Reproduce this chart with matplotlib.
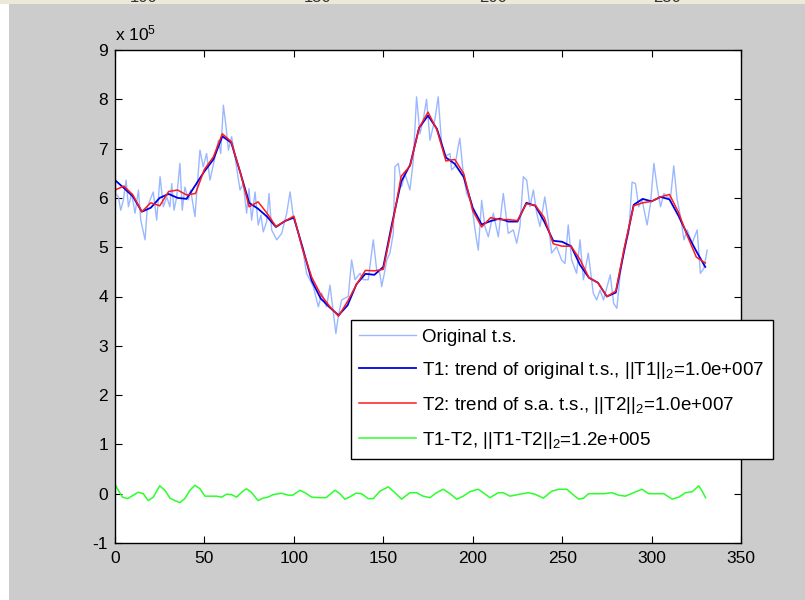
import matplotlib
matplotlib.use("Agg")
import matplotlib.pyplot as plt
from matplotlib.patches import Rectangle
from matplotlib.lines import Line2D

plt.rcParams['font.family'] = ['Liberation Sans', 'DejaVu Sans']
plt.rcParams['mathtext.fontset'] = 'custom'
plt.rcParams['mathtext.rm'] = 'Liberation Sans'
plt.rcParams['mathtext.it'] = 'Liberation Sans'

# ---------------- data (values in units of 1e5) ----------------
orig_x = [0.0, 0.4, 1.9, 3.2, 4.7, 6.2, 7.5, 9.3, 11.2, 13.1, 14.4, 16.8, 18.1, 19.6, 21.4,
          23.3, 25.2, 27.0, 28.9, 30.7, 31.7, 33.0, 34.5, 36.3, 37.6, 39.1, 41.0, 42.3, 44.7,
          47.5, 49.3, 51.2, 53.1, 55.9, 57.8, 59.1, 60.6, 62.1, 63.4, 65.2, 67.1, 69.9, 71.7,
          73.6, 74.9, 76.4, 78.3, 80.1, 81.6, 82.9, 84.8, 86.1, 87.6, 90.4, 93.2, 96.0, 97.9,
          99.7, 102.6, 105.3, 107.1, 110.9, 113.7, 115.6, 118.3, 120.2, 122.1, 123.5, 124.8,
          126.7, 130.4, 132.3, 134.2, 137.0, 138.8, 141.6, 144.4, 146.3, 148.1, 149.1, 151.0,
          151.9, 153.7, 155.6, 156.5, 158.4, 160.3, 162.1, 164.9, 166.8, 168.6, 170.5, 172.4,
          174.2, 176.1, 178.9, 180.7, 182.6, 184.5, 187.3, 188.2, 190.0, 191.9, 192.8, 194.7,
          196.6, 199.4, 201.3, 203.1, 205.0, 206.8, 208.7, 211.5, 214.3, 217.1, 219.9, 222.7,
          224.6, 226.4, 228.3, 230.2, 232.0, 233.9, 235.8, 237.6, 240.3, 242.2, 244.1, 246.9,
          249.7, 251.6, 253.4, 255.3, 258.1, 260.0, 261.9, 264.6, 267.4, 269.3, 271.2, 273.1,
          276.9, 278.8, 280.6, 282.5, 284.4, 287.2, 289.1, 291.0, 292.8, 294.7, 297.5, 299.4,
          301.3, 303.1, 305.0, 306.9, 308.7, 310.6, 312.4, 314.3, 316.2, 318.1, 319.9, 322.7,
          325.5, 327.3, 329.2, 331.1]
orig_y = [6.94, 6.09, 6.02, 5.75, 5.96, 6.36, 5.82, 6.09, 5.69, 6.16, 5.55, 5.15, 5.82, 5.96, 6.12,
          5.55, 6.43, 5.82, 6.02, 5.82, 6.29, 5.75, 6.02, 6.70, 5.75, 6.22, 5.96, 6.16, 5.62,
          6.97, 6.63, 6.90, 6.36, 6.83, 7.17, 6.90, 7.88, 7.44, 6.97, 7.24, 6.83, 6.16, 6.29,
          5.69, 6.19, 5.55, 6.12, 5.45, 5.65, 5.31, 5.52, 6.09, 5.35, 5.15, 5.28, 5.69, 6.12,
          5.62, 5.28, 4.88, 4.47, 4.20, 3.79, 4.07, 3.79, 4.23, 3.66, 3.25, 3.59,
          3.93, 4.00, 4.74, 4.34, 4.47, 4.34, 4.34, 5.15, 4.54, 4.47, 4.20, 4.54,
          4.74, 4.88, 5.28, 6.63, 6.70, 6.23, 6.49, 6.16, 6.77, 8.05, 7.30, 7.60,
          8.00, 7.17, 7.60, 8.05, 7.10, 6.84, 6.90, 6.57, 6.63, 7.04, 7.21, 6.50,
          6.09, 5.89, 5.35, 4.94, 5.95, 5.42, 5.21, 5.69, 5.21, 6.09, 5.28, 5.35,
          5.08, 5.42, 6.43, 6.36, 5.82, 6.16, 5.69, 5.42, 6.02, 5.55, 4.88, 5.01,
          4.74, 4.67, 5.45, 4.74, 4.47, 5.15, 4.34, 4.88, 4.07, 3.93, 4.13, 3.93,
          4.44, 3.86, 3.76, 4.47, 4.94, 5.28, 6.32, 6.29, 5.82, 5.96, 5.45, 5.89,
          6.70, 6.22, 5.82, 6.09, 6.02, 6.00, 6.65, 5.96, 5.62, 5.15, 5.35, 5.08,
          5.35, 4.47, 4.57, 4.94]

trend_x = [0, 5, 10, 15, 20, 25, 30, 35, 40, 45, 50, 55, 60, 65, 70, 75, 80, 85, 90, 95,
           100, 105, 110, 115, 120, 125, 130, 135, 140, 145, 150, 155, 160, 165, 170, 175,
           180, 185, 190, 195, 200, 205, 210, 215, 220, 225, 230, 235, 240, 245, 250, 255,
           260, 265, 270, 275, 280, 285, 290, 295, 300, 305, 310, 315, 320, 325, 330]
t1 = [6.36, 6.20, 6.03, 5.72, 5.80, 6.00, 6.08, 6.00, 5.98, 6.26, 6.54, 6.78, 7.25, 7.12, 6.52,
      5.90, 5.78, 5.62, 5.41, 5.53, 5.60, 4.98, 4.32, 3.96, 3.78, 3.62, 3.82, 4.25, 4.46, 4.44,
      4.60, 5.50, 6.33, 6.67, 7.42, 7.67, 7.40, 6.82, 6.69, 6.42, 5.80, 5.46, 5.53, 5.58, 5.52,
      5.52, 5.90, 5.84, 5.52, 5.13, 5.11, 5.02, 4.64, 4.38, 4.28, 4.00, 4.08, 4.98, 5.86, 5.98,
      5.93, 6.02, 5.97, 5.64, 5.26, 4.92, 4.60]
t2 = [6.16, 6.24, 6.06, 5.72, 5.90, 5.84, 6.13, 6.16, 6.06, 6.09, 6.58, 6.83, 7.30, 7.14, 6.52,
      5.82, 5.92, 5.69, 5.42, 5.53, 5.63, 4.94, 4.39, 4.04, 3.80, 3.60, 3.90, 4.24, 4.53, 4.52,
      4.55, 5.44, 6.44, 6.65, 7.42, 7.74, 7.38, 6.75, 6.78, 6.49, 5.74, 5.41, 5.60, 5.56, 5.56,
      5.54, 5.88, 5.85, 5.60, 5.07, 5.02, 5.02, 4.75, 4.38, 4.28, 4.00, 4.11, 5.03, 5.84, 5.90,
      5.93, 6.02, 6.07, 5.71, 5.23, 4.80, 4.68]

diff_x = [0.0, 1.3, 4.2, 7.0, 10.3, 13.0, 15.8, 18.6, 21.4, 25.0, 27.9, 30.7, 33.5, 36.3, 39.0,
          41.9, 44.7, 47.5, 50.3, 53.0, 56.8, 59.6, 62.4, 65.2, 68.0, 70.8, 73.5, 76.2, 80.0,
          82.7, 85.5, 88.3, 93.0, 96.9, 99.4, 103.4, 106.2, 110.0, 114.3, 118.0, 120.0, 123.0,
          125.7, 128.5, 131.0, 134.8, 137.8, 141.6, 144.4, 148.1, 152.8, 156.5, 160.2, 164.9,
          168.6, 172.3, 176.1, 179.8, 183.5, 187.3, 191.0, 194.7, 198.4, 203.1, 205.9, 209.6,
          214.3, 217.1, 220.8, 226.4, 231.1, 234.8, 239.5, 244.2, 248.0, 252.6, 256.4, 259.2,
          262.0, 264.8, 269.4, 273.2, 277.8, 281.6, 285.3, 290.0, 294.6, 298.4, 306.8, 311.5,
          315.2, 319.0, 322.7, 326.4, 328.3, 330.2]
diff_y = [0.20, 0.10, -0.07, -0.10, -0.03, 0.03, 0.00, -0.14, -0.07, 0.16, 0.07, -0.09, -0.14,
          -0.18, -0.10, 0.07, 0.17, 0.10, -0.05, -0.05, -0.05, -0.07, -0.01, -0.02, -0.07, 0.03,
          0.10, 0.03, -0.14, -0.09, -0.07, -0.02, 0.01, -0.03, -0.03, 0.07, 0.02, -0.07, -0.08,
          -0.08, -0.02, 0.07, 0.00, -0.11, -0.07, 0.01, 0.00, -0.10, -0.10, 0.05, 0.14, 0.02,
          -0.11, 0.02, 0.02, -0.05, -0.08, 0.02, 0.09, 0.00, -0.11, -0.05, 0.04, 0.09, 0.02,
          -0.08, 0.02, 0.02, -0.05, -0.01, 0.02, -0.01, -0.09, 0.05, 0.09, 0.09, -0.03, -0.11,
          -0.09, 0.00, 0.00, 0.00, 0.02, -0.03, -0.05, 0.02, 0.09, 0.00, 0.00, -0.11, -0.07,
          0.02, 0.04, 0.16, 0.05, -0.08]

labels = ["Original t.s.",
          r"T1: trend of original t.s., ||T1||$_2$=1.0e+007",
          r"T2: trend of s.a. t.s., ||T2||$_2$=1.0e+007",
          r"T1-T2, ||T1-T2||$_2$=1.2e+005"]
x_ticks = [0, 50, 100, 150, 200, 250, 300, 350]
y_ticks = [-1, 0, 1, 2, 3, 4, 5, 6, 7, 8, 9]
top_fragments = ["100", "150", "200", "250"]

# ---------------- figure ----------------
W, H = 805, 600
fig = plt.figure(figsize=(W / 100, H / 100), dpi=100, facecolor='#cccccc')
fig.patches.append(Rectangle((0, 0), 9 / W, 1, transform=fig.transFigure,
                             facecolor='white', edgecolor='none', zorder=0))
fig.patches.append(Rectangle((0, 1 - 4 / H), 1, 4 / H, transform=fig.transFigure,
                             facecolor='#ece9d8', edgecolor='none', zorder=0))
# tick labels of a chart above, cut off by the window edge as in the reference
for lab, px in zip(top_fragments, [144, 318, 493, 667]):
    fig.text(px / W, 1 - 2.5 / H, lab, ha='center', va='baseline', fontsize=12, color='#333333')

ax = fig.add_axes([115 / W, 57 / H, 626 / W, 493 / H])
ax.set_facecolor('white')

c_orig = '#9bb8ff'
c_t1 = '#0000e6'
c_t2 = '#ff1a1a'
c_d = '#2bff2b'
ax.plot(orig_x, orig_y, color=c_orig, lw=1.0)
ax.plot(trend_x, t1, color=c_t1, lw=1.3)
ax.plot(trend_x, t2, color=c_t2, lw=1.1)
ax.plot(diff_x, diff_y, color=c_d, lw=1.1)

ax.set_xlim(0, 350)
ax.set_ylim(-1, 9)
ax.set_xticks(x_ticks)
ax.set_yticks(y_ticks)
ax.set_xticklabels([str(v) for v in x_ticks])
ax.set_yticklabels([str(v) for v in y_ticks])
ax.tick_params(direction='in', length=5, width=0.8, top=True, right=True,
               labelsize=12.5, colors='black')
ax.tick_params(axis='x', pad=6)
ax.tick_params(axis='y', pad=5)
for s in ax.spines.values():
    s.set_linewidth(1.0)
    s.set_color('black')

fig.text(115 / W, 1 - 40 / H, r"x 10$^5$", fontsize=12.5, ha='left', va='baseline')

handles = [Line2D([], [], color=c_orig, lw=1.0),
           Line2D([], [], color=c_t1, lw=1.3),
           Line2D([], [], color=c_t2, lw=1.1),
           Line2D([], [], color=c_d, lw=1.1)]
leg = fig.legend(handles, labels, loc='upper left',
                 bbox_to_anchor=(351 / W, 1 - 320 / H),
                 fontsize=13.5, frameon=True, fancybox=False, borderpad=0.45,
                 handlelength=3.0, handletextpad=0.35, labelspacing=0.75,
                 borderaxespad=0)
leg.get_frame().set_edgecolor('black')
leg.get_frame().set_linewidth(1.0)
leg.get_frame().set_facecolor('white')
leg.get_frame().set_alpha(1)

fig.savefig('out.png', dpi=100, facecolor=fig.get_facecolor())
